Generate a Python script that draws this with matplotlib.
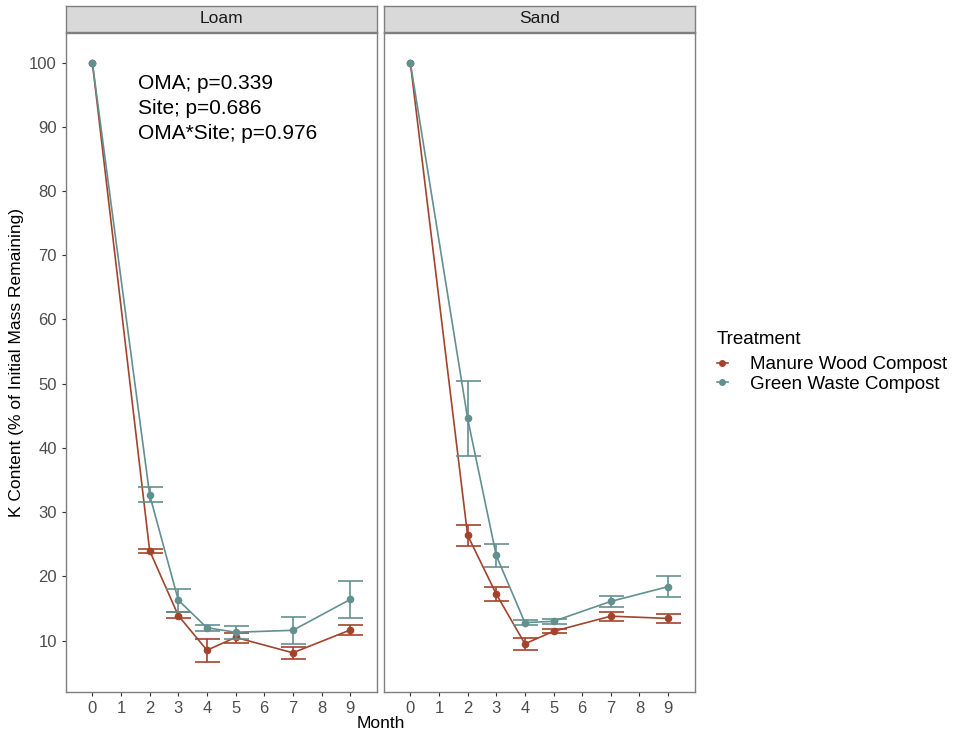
import matplotlib.pyplot as plt
from matplotlib.lines import Line2D

plt.rcParams['font.family'] = ['Liberation Sans', 'DejaVu Sans']

months = [0, 2, 3, 4, 5, 7, 9]
treatments = ['Manure Wood Compost', 'Green Waste Compost']
colors = ['#A3432B', '#62908F']

# mean and error bar bounds per site, per treatment (no spread at month 0)
loam_manure = [100, 24.0, 13.9, 8.5, 10.5, 8.1, 11.65]
loam_manure_lo = [100, 23.7, 13.5, 6.6, 9.7, 7.2, 10.9]
loam_manure_hi = [100, 24.25, 14.5, 10.3, 11.2, 9.0, 12.4]
loam_green = [100, 32.7, 16.3, 12.0, 11.3, 11.6, 16.4]
loam_green_lo = [100, 31.55, 14.5, 11.55, 10.3, 9.5, 13.5]
loam_green_hi = [100, 33.9, 18.0, 12.4, 12.2, 13.7, 19.3]

sand_manure = [100, 26.4, 17.25, 9.5, 11.45, 13.8, 13.45]
sand_manure_lo = [100, 24.7, 16.1, 8.5, 11.2, 13.1, 12.7]
sand_manure_hi = [100, 28.0, 18.4, 10.4, 11.8, 14.5, 14.1]
sand_green = [100, 44.6, 23.25, 12.8, 13.0, 16.1, 18.4]
sand_green_lo = [100, 38.8, 21.45, 12.4, 12.6, 15.2, 16.8]
sand_green_hi = [100, 50.4, 25.1, 13.26, 13.4, 17.0, 20.0]

sites = {
    'Loam': [(loam_manure, loam_manure_lo, loam_manure_hi),
             (loam_green, loam_green_lo, loam_green_hi)],
    'Sand': [(sand_manure, sand_manure_lo, sand_manure_hi),
             (sand_green, sand_green_lo, sand_green_hi)],
}

stats_text = 'OMA; p=0.339\nSite; p=0.686\nOMA*Site; p=0.976'

fig = plt.figure(figsize=(9.58, 7.4), dpi=100)

panel_left = [0.0689, 0.4008]
panel_w = 0.3250
panel_b = 0.0649
panel_h = 0.8905
strip_h = 0.0351
frame_col = '#7F7F7F'

axes = []
for i, (site, series) in enumerate(sites.items()):
    ax = fig.add_axes([panel_left[i], panel_b, panel_w, panel_h])
    axes.append(ax)
    for (mean, lo, hi), col in zip(series, colors):
        ax.plot(months, mean, color=col, lw=1.2, marker='o', markersize=4.5)
        # error bars only where there is spread
        yerr = [[m - l for m, l in zip(mean[1:], lo[1:])],
                [h - m for m, h in zip(mean[1:], hi[1:])]]
        ax.errorbar(months[1:], mean[1:], yerr=yerr, fmt='none', ecolor=col,
                    capsize=9, capthick=1.2, elinewidth=1.2)
    ax.set_xlim(-0.92, 9.95)
    ax.set_ylim(2.0, 104.6)
    ax.set_xticks(range(10))
    ax.set_yticks(range(10, 101, 10))
    ax.tick_params(colors='#333333', labelcolor='#4D4D4D', labelsize=12,
                   length=3, width=0.8)
    for s in ax.spines.values():
        s.set_color(frame_col)
        s.set_linewidth(1.0)
    if i > 0:
        ax.tick_params(axis='y', left=False, labelleft=False)

    # facet strip
    sax = fig.add_axes([panel_left[i], panel_b + panel_h + 0.0015, panel_w, strip_h])
    sax.set_xticks([])
    sax.set_yticks([])
    sax.set_facecolor('#D9D9D9')
    for s in sax.spines.values():
        s.set_color(frame_col)
        s.set_linewidth(1.0)
    sax.text(0.5, 0.5, site, ha='center', va='center', fontsize=12.5,
             color='#1A1A1A', transform=sax.transAxes)

axes[0].text(1.6, 92.85, stats_text, ha='left', va='center', fontsize=15,
             linespacing=1.38, color='black')

axes[0].set_ylabel('K Content (% of Initial Mass Remaining)', fontsize=12.5, labelpad=4)
fig.text(0.397, 0.022, 'Month', ha='center', va='center', fontsize=12.5)

# legend: title placed on its own, entries below
fig.text(0.748, 0.541, 'Treatment', ha='left', va='center', fontsize=13.5)
handles = [Line2D([], [], color=c, marker='o', markersize=4, lw=1.2) for c in colors]
leg = fig.legend(handles, treatments, loc='upper left',
                 bbox_to_anchor=(0.748, 0.519), frameon=False, fontsize=13.5,
                 handlelength=0.6, handletextpad=1.2,
                 labelspacing=0.14, borderaxespad=0, borderpad=0)

fig.savefig('out.png', dpi=100)
